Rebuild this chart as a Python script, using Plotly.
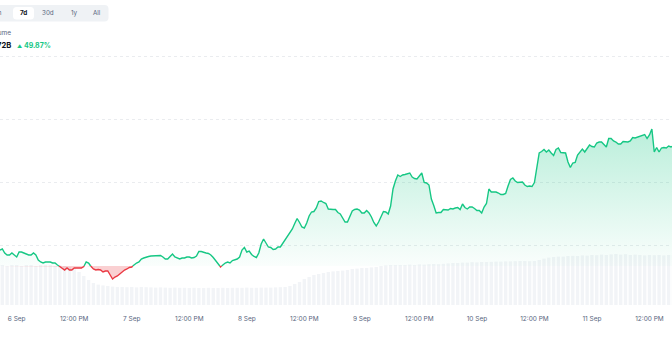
import numpy as np
import pandas as pd
import plotly.graph_objects as go

# ---------------- data ----------------
line_start = "2024-09-05 20:30"
line_step = "30min"
volume_b = [
    43.2, 43.4, 42.6, 42.2, 42.2, 42.6, 42.2, 41.8, 42.8, 42.8,
    42.6, 42.4, 42.2, 42.2, 42.6, 42.2, 41.2, 40.8, 40.6, 40.8,
    40.8, 40.8, 40.6, 40.6, 40.2, 39.9, 39.6, 39.2, 39.6, 39.2,
    39.2, 39.6, 39.6, 39.6, 39.6, 39.9, 40.8, 40.6, 39.9, 39.4,
    39.2, 39.3, 39.2, 38.8, 39.0, 39.0, 38.2, 37.4, 37.8, 38.0,
    38.4, 38.8, 39.2, 39.4, 39.7, 39.8, 40.3, 40.6, 40.8, 41.4,
    41.6, 41.8, 41.9, 42.0, 42.0, 42.0, 42.1, 42.1, 41.8, 41.4,
    41.4, 42.0, 42.4, 41.8, 41.6, 41.4, 41.6, 41.6, 41.8, 41.8,
    41.6, 41.7, 42.0, 42.9, 42.9, 42.7, 42.6, 42.5, 42.2, 41.7,
    41.1, 40.6, 39.8, 40.2, 40.6, 40.8, 40.6, 41.1, 41.3, 41.4,
    41.8, 43.2, 43.7, 42.8, 43.0, 42.3, 41.9, 41.7, 42.6, 44.4,
    45.4, 44.5, 43.8, 43.7, 43.3, 43.4, 43.8, 43.8, 44.5, 45.2,
    45.8, 46.6, 47.4, 48.5, 49.5, 48.7, 47.8, 47.6, 48.6, 50.0,
    50.8, 50.9, 51.6, 52.9, 53.0, 52.7, 52.5, 51.4, 51.3, 51.3,
    51.3, 50.7, 50.4, 49.6, 48.8, 48.8, 49.8, 51.0, 51.3, 51.4,
    51.2, 50.6, 50.6, 51.1, 50.6, 49.8, 48.7, 48.0, 48.8, 50.0,
    50.9, 50.8, 50.4, 52.0, 55.4, 57.0, 58.2, 57.9, 58.2, 58.3,
    58.4, 58.6, 57.8, 57.5, 57.4, 58.1, 58.6, 56.7, 56.6, 56.2,
    53.4, 52.1, 50.6, 50.7, 50.7, 51.3, 51.2, 51.2, 51.5, 51.4,
    51.6, 51.7, 51.3, 52.4, 51.7, 51.4, 51.8, 51.8, 51.5, 51.1,
    51.1, 50.6, 51.8, 52.5, 55.4, 54.8, 54.8, 54.8, 54.6, 54.3,
    54.3, 54.5, 56.0, 57.3, 57.6, 57.0, 56.7, 56.7, 56.8, 56.2,
    55.9, 56.0, 55.9, 56.7, 59.8, 62.6, 62.9, 63.3, 62.8, 63.2,
    62.6, 62.1, 63.3, 63.6, 62.7, 62.7, 62.6, 60.8, 59.7, 60.6,
    60.7, 62.2, 62.9, 63.4, 62.8, 63.6, 64.2, 63.9, 63.8, 64.6,
    64.8, 64.8, 64.3, 63.8, 65.5, 65.5, 65.0, 64.8, 64.4, 64.4,
    64.9, 64.8, 64.8, 65.0, 65.7, 65.6, 65.8, 66.0, 66.2, 66.3,
    65.5, 66.2, 67.4, 62.8, 63.7, 62.8, 63.6, 63.7, 63.6, 64.0,
    63.8, 64.0,
]
baseline_b = 40.0

bar_start = "2024-09-05 20:00"
bar_step = "h"
hourly_b = [
    2.0, 2.0, 1.95, 2.0, 2.0, 1.95, 2.0, 2.0, 1.95, 2.0, 2.0, 2.0, 1.95, 2.0, 1.95, 1.9,
    1.85, 1.65, 1.45, 1.25, 1.1, 1.02, 0.98, 0.95, 0.92,
    0.9, 0.9, 0.89, 0.9, 0.88, 0.9, 0.89, 0.88, 0.87, 0.88, 0.87, 0.86, 0.87, 0.86,
    0.86, 0.85, 0.86, 0.85, 0.85, 0.86, 0.85, 0.85, 0.86, 0.85, 0.86, 0.86, 0.86,
    0.87, 0.86, 0.86, 0.87, 0.87, 0.87, 0.88, 0.89, 0.9,
    0.95, 1.05, 1.15, 1.3, 1.4, 1.5, 1.55, 1.6, 1.65, 1.68, 1.7, 1.72, 1.75, 1.8,
    1.82, 1.85, 1.85, 1.88, 1.9, 1.95, 1.98, 2.0, 2.0, 2.0,
    2.0, 2.02, 2.0, 2.03, 2.02, 2.04, 2.05, 2.04, 2.06,
    2.08, 2.1, 2.1, 2.12, 2.12, 2.14, 2.13, 2.15, 2.15, 2.16, 2.17,
    2.17, 2.18, 2.18, 2.19, 2.2, 2.2, 2.19, 2.2,
    2.25, 2.32, 2.37, 2.4, 2.42, 2.42, 2.45,
    2.46, 2.45, 2.48, 2.47, 2.5, 2.49, 2.52, 2.5, 2.53, 2.55, 2.52,
    2.54, 2.5, 2.52, 2.5, 2.48, 2.5, 2.49, 2.5, 2.48, 2.5, 2.5,
]

tick_dates = [
    "2024-09-06 00:00", "2024-09-06 12:00", "2024-09-07 00:00", "2024-09-07 12:00",
    "2024-09-08 00:00", "2024-09-08 12:00", "2024-09-09 00:00", "2024-09-09 12:00",
    "2024-09-10 00:00", "2024-09-10 12:00", "2024-09-11 00:00", "2024-09-11 12:00",
]
tick_text = ["6 Sep", "12:00 PM", "7 Sep", "12:00 PM", "8 Sep", "12:00 PM",
             "9 Sep", "12:00 PM", "10 Sep", "12:00 PM", "11 Sep", "12:00 PM"]

tab_labels = ["24h", "7d", "30d", "1y", "All"]
active_tab = "7d"
metric_name = "Volume"
metric_value = "$63.72B"
metric_change = "49.87%"

# ---------------- styling ----------------
W, H = 672, 340
M_T, M_B = 53, 35
PLOT_H = H - M_T - M_B
GREEN = "#16c784"
RED = "#ea3943"
FONT = "Inter"


def px(x):
    return x / W


def py(y):
    return (H - M_B - y) / PLOT_H


def rounded_rect(x0, y0, x1, y1, r):
    rx, ry = r / W, r / PLOT_H
    X0, X1, Y0, Y1 = px(x0), px(x1), py(y0), py(y1)
    return (f"M {X0+rx},{Y0} L {X1-rx},{Y0} Q {X1},{Y0} {X1},{Y0-ry} "
            f"L {X1},{Y1+ry} Q {X1},{Y1} {X1-rx},{Y1} L {X0+rx},{Y1} "
            f"Q {X0},{Y1} {X0},{Y1+ry} L {X0},{Y0-ry} Q {X0},{Y0} {X0+rx},{Y0} Z")


# ---------------- series prep (split at baseline crossings) ----------------
t = pd.date_range(line_start, periods=len(volume_b), freq=line_step)
v = np.array(volume_b, dtype=float)
b = baseline_b
ta, va = [t[0]], [v[0]]
for i in range(1, len(v)):
    d0, d1 = v[i - 1] - b, v[i] - b
    if d0 * d1 < 0:
        f = d0 / (d0 - d1)
        ta.append(t[i - 1] + (t[i] - t[i - 1]) * f)
        va.append(b)
    ta.append(t[i])
    va.append(v[i])
va = np.array(va)
up = np.maximum(va, b)
dn = np.minimum(va, b)
g_line = [y if y >= b else None for y in va]
r_line = [y if y <= b else None for y in va]

bar_t = pd.date_range(bar_start, periods=len(hourly_b), freq=bar_step)

fig = go.Figure()
fig.add_trace(go.Bar(x=bar_t, y=hourly_b, marker=dict(color="#f2f4f7", line=dict(width=0)),
                     yaxis="y", hoverinfo="skip", showlegend=False))
fig.add_trace(go.Scatter(x=ta, y=[b] * len(ta), mode="lines", line=dict(width=0),
                         yaxis="y2", hoverinfo="skip", showlegend=False))
fig.add_trace(go.Scatter(x=ta, y=up, mode="lines", line=dict(width=0), fill="tonexty",
                         fillgradient=dict(type="vertical",
                                           colorscale=[[0, "rgba(22,199,132,0.02)"],
                                                       [1, "rgba(22,199,132,0.30)"]],
                                           start=b, stop=68),
                         yaxis="y2", hoverinfo="skip", showlegend=False))
fig.add_trace(go.Scatter(x=ta, y=[b] * len(ta), mode="lines", line=dict(width=0),
                         yaxis="y2", hoverinfo="skip", showlegend=False))
fig.add_trace(go.Scatter(x=ta, y=dn, mode="lines", line=dict(width=0), fill="tonexty",
                         fillcolor="rgba(234,57,67,0.24)",
                         yaxis="y2", hoverinfo="skip", showlegend=False))
fig.add_trace(go.Scatter(x=ta, y=g_line, mode="lines", line=dict(color=GREEN, width=1.4),
                         yaxis="y2", showlegend=False))
fig.add_trace(go.Scatter(x=ta, y=r_line, mode="lines", line=dict(color=RED, width=1.4),
                         yaxis="y2", showlegend=False))

shapes = [
    dict(type="path", xref="paper", yref="paper", path=rounded_rect(-20, 5, 108.5, 21.5, 4),
         fillcolor="#eff2f5", line=dict(width=0), layer="above"),
    dict(type="path", xref="paper", yref="paper", path=rounded_rect(13, 7, 34, 19.5, 3.5),
         fillcolor="#ffffff", line=dict(width=0), layer="above"),
]

tab_x = [-4, 23.5, 48.5, 74, 97]
annotations = []
for lab, x in zip(tab_labels, tab_x):
    active = lab == active_tab
    annotations.append(dict(
        x=px(x), y=py(13.5), xref="paper", yref="paper", text=f"<b>{lab}</b>" if active else lab,
        showarrow=False, xanchor="center", yanchor="middle",
        font=dict(family=FONT, size=6.3, color="#0d1421" if active else "#58667e")))
annotations.append(dict(x=px(12.5), y=py(33), xref="paper", yref="paper", text=metric_name,
                        showarrow=False, xanchor="right", yanchor="middle",
                        font=dict(family=FONT, size=6.5, color="#58667e")))
annotations.append(dict(x=px(12.5), y=py(45.5), xref="paper", yref="paper",
                        text=f"<b>{metric_value}</b>", showarrow=False, xanchor="right",
                        yanchor="middle", font=dict(family=FONT, size=7.6, color="#0d1421")))
annotations.append(dict(x=px(15), y=py(45.5), xref="paper", yref="paper",
                        text=f"<b><span style='font-size:5px'>▲</span> {metric_change}</b>",
                        showarrow=False, xanchor="left", yanchor="middle",
                        font=dict(family=FONT, size=7, color=GREEN)))

fig.update_layout(
    width=W, height=H,
    margin=dict(l=0, r=0, t=M_T, b=M_B, pad=0),
    paper_bgcolor="white", plot_bgcolor="white",
    bargap=0.3,
    showlegend=False,
    xaxis=dict(type="date", range=["2024-09-05 20:31", "2024-09-11 16:42"],
               tickvals=tick_dates, ticktext=tick_text, showgrid=False, zeroline=False,
               showline=False, ticks="", ticklabelstandoff=8,
               tickfont=dict(family=FONT, size=6.5, color="#58667e")),
    yaxis=dict(range=[0, 12.6], visible=False, showgrid=False, zeroline=False, fixedrange=True),
    yaxis2=dict(range=[32.2, 82.6], overlaying="y", side="left", showticklabels=False,
                showgrid=True, griddash="dot", gridcolor="#eaecef", gridwidth=1,
                tick0=44.2, dtick=12.6, zeroline=False, showline=False, ticks=""),
    shapes=shapes,
    annotations=annotations,
)

fig.write_html("out.html")
